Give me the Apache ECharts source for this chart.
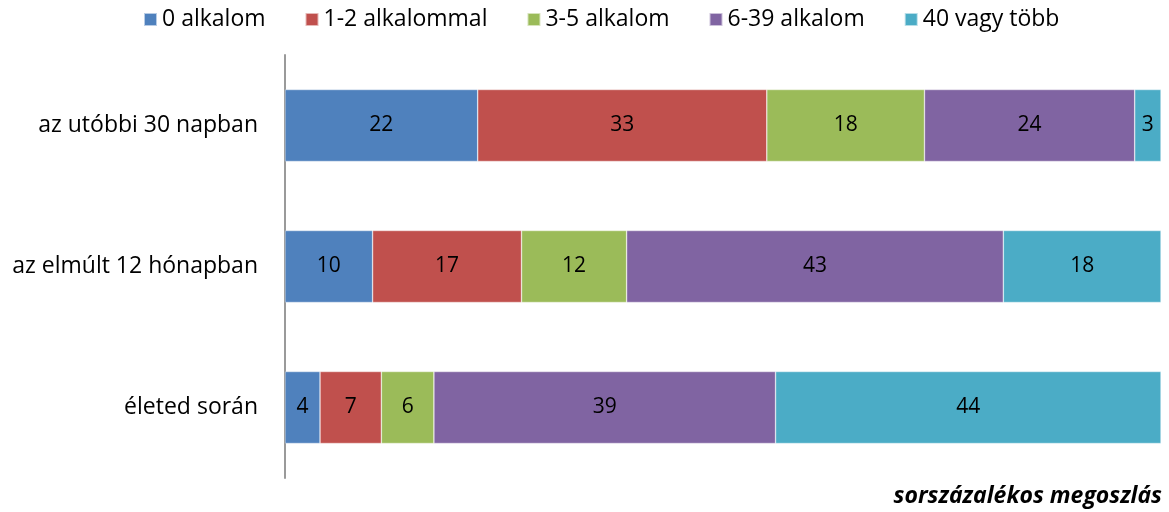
<!DOCTYPE html>
<html>
<head>
<meta charset="utf-8">
<script src="https://cdn.jsdelivr.net/npm/echarts@6/dist/echarts.min.js"></script>
<style>
  html, body { margin: 0; padding: 0; background: #fff; }
  #chart { width: 1169px; height: 512px; }
</style>
</head>
<body>
<div id="chart"></div>
<script>
var categories = ['az utóbbi 30 napban', 'az elmúlt 12 hónapban', 'életed során'];
var seriesNames = ['0 alkalom', '1-2 alkalommal', '3-5 alkalom', '6-39 alkalom', '40 vagy több'];
var values_0 = [22, 10, 4];
var values_1_2 = [33, 17, 7];
var values_3_5 = [18, 12, 6];
var values_6_39 = [24, 43, 39];
var values_40 = [3, 18, 44];
var colors = ['#4F81BD', '#C0504D', '#9BBB59', '#8064A2', '#4BACC6'];
var font = '"Open Sans", sans-serif';

var allValues = [values_0, values_1_2, values_3_5, values_6_39, values_40];

var series = allValues.map(function(vals, idx) {
  return {
    name: seriesNames[idx],
    type: 'bar',
    stack: 'total',
    barWidth: 72,
    data: vals,
    itemStyle: { color: colors[idx], borderColor: 'rgba(255,255,255,0.6)', borderWidth: 0.6 },
    label: {
      show: true,
      position: 'inside',
      color: '#000',
      fontSize: 21,
      fontFamily: font
    }
  };
});

var option = {
  animation: false,
  color: colors,
  legend: {
    data: seriesNames,
    top: 3,
    left: 138,
    itemWidth: 13,
    itemHeight: 13,
    itemGap: 39,
    icon: 'rect',
    textStyle: { fontSize: 23, color: '#000', fontFamily: font }
  },
  grid: { left: 285, right: 8, top: 55, bottom: 34 },
  xAxis: {
    type: 'value',
    min: 0,
    max: 100,
    show: false
  },
  yAxis: {
    type: 'category',
    inverse: true,
    data: categories,
    axisLine: { show: true, lineStyle: { color: '#9a9a9a', width: 2 } },
    axisTick: { show: false },
    axisLabel: { fontSize: 23, color: '#000', margin: 27, fontFamily: font }
  },
  graphic: [{
    type: 'text',
    right: 7,
    top: 485,
    style: {
      text: 'sorszázalékos megoszlás',
      font: 'italic bold 23px ' + font,
      fill: '#000'
    }
  }],
  series: series
};

var chart = echarts.init(document.getElementById('chart'));
chart.setOption(option);
</script>
</body>
</html>
